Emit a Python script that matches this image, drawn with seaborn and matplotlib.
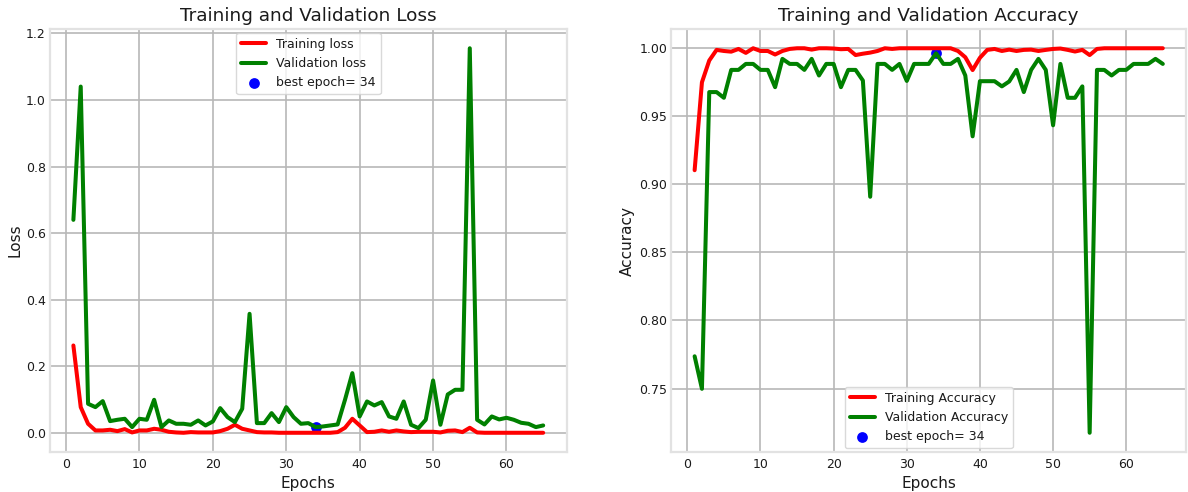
import matplotlib
matplotlib.use("Agg")
import matplotlib.pyplot as plt
import seaborn as sns

# Per-epoch training history
epochs = list(range(1, 66))

train_loss = [
    0.263, 0.078, 0.028, 0.008, 0.008, 0.010, 0.006, 0.012, 0.002, 0.008,
    0.008, 0.013, 0.010, 0.004, 0.002, 0.001, 0.003, 0.002, 0.002, 0.002,
    0.006, 0.013, 0.025, 0.013, 0.008, 0.003, 0.002, 0.002, 0.001, 0.001,
    0.001, 0.001, 0.001, 0.001, 0.001, 0.001, 0.003, 0.016, 0.043, 0.023,
    0.003, 0.004, 0.008, 0.004, 0.008, 0.005, 0.003, 0.004, 0.004, 0.004,
    0.002, 0.007, 0.008, 0.003, 0.016, 0.002, 0.001, 0.001, 0.001, 0.001,
    0.001, 0.001, 0.001, 0.001, 0.001,
]
val_loss = [
    0.640, 1.040, 0.088, 0.078, 0.096, 0.036, 0.040, 0.043, 0.018, 0.043,
    0.040, 0.100, 0.018, 0.038, 0.028, 0.028, 0.025, 0.038, 0.023, 0.035,
    0.075, 0.048, 0.033, 0.073, 0.358, 0.030, 0.030, 0.060, 0.033, 0.078,
    0.048, 0.028, 0.030, 0.018, 0.020, 0.023, 0.026, 0.100, 0.180, 0.050,
    0.095, 0.083, 0.093, 0.050, 0.043, 0.095, 0.025, 0.015, 0.040, 0.158,
    0.025, 0.116, 0.130, 0.130, 1.155, 0.040, 0.026, 0.050, 0.041, 0.046,
    0.040, 0.031, 0.028, 0.018, 0.023,
]
train_acc = [
    0.9104, 0.9750, 0.9910, 0.9988, 0.9980, 0.9975, 0.9995, 0.9966, 1.0000, 0.9980,
    0.9980, 0.9954, 0.9980, 0.9995, 1.0000, 1.0000, 0.9990, 1.0000, 1.0000, 0.9998,
    0.9993, 0.9995, 0.9950, 0.9960, 0.9968, 0.9980, 1.0000, 0.9995, 1.0000, 1.0000,
    1.0000, 1.0000, 1.0000, 1.0000, 1.0000, 1.0000, 0.9980, 0.9934, 0.9840, 0.9930,
    0.9988, 0.9995, 0.9980, 0.9990, 0.9980, 0.9988, 0.9990, 0.9980, 0.9988, 0.9995,
    0.9998, 0.9988, 0.9976, 0.9988, 0.9950, 0.9995, 1.0000, 1.0000, 1.0000, 1.0000,
    1.0000, 1.0000, 1.0000, 1.0000, 1.0000,
]
val_acc = [
    0.7737, 0.7498, 0.9678, 0.9678, 0.9636, 0.9841, 0.9841, 0.9885, 0.9885, 0.9841,
    0.9841, 0.9714, 0.9922, 0.9885, 0.9885, 0.9841, 0.9922, 0.9800, 0.9885, 0.9885,
    0.9714, 0.9841, 0.9841, 0.9763, 0.8909, 0.9885, 0.9885, 0.9841, 0.9885, 0.9760,
    0.9885, 0.9885, 0.9885, 0.9963, 0.9885, 0.9885, 0.9922, 0.9800, 0.9353, 0.9758,
    0.9758, 0.9758, 0.9720, 0.9756, 0.9841, 0.9678, 0.9841, 0.9922, 0.9841, 0.9434,
    0.9885, 0.9636, 0.9636, 0.9720, 0.7175, 0.9841, 0.9841, 0.9800, 0.9841, 0.9841,
    0.9885, 0.9885, 0.9885, 0.9922, 0.9885,
]
best_epoch = 34

sns.set_theme(style="whitegrid", color_codes=False, rc={
    "axes.edgecolor": "#e2e2e2",
    "axes.linewidth": 1.6,
    "grid.color": "#b8b8b8",
    "grid.linewidth": 1.2,
    "xtick.major.size": 0,
    "ytick.major.size": 0,
    "xtick.major.pad": 4,
    "ytick.major.pad": 3,
    "text.color": "#1a1a1a",
    "axes.labelcolor": "#1a1a1a",
    "xtick.color": "#1a1a1a",
    "ytick.color": "#1a1a1a",
})
plt.rcParams["font.family"] = ["DejaVu Sans"]

fig = plt.figure(figsize=(11.88, 4.92), dpi=100)
ax_loss = fig.add_axes([0.042, 0.0813, 0.435, 0.8597])
ax_acc = fig.add_axes([0.565, 0.0813, 0.4335, 0.8597])

lw = 2.9
dot_size = 60
tick_fs = 9
label_fs = 11
title_fs = 13.3
legend_fs = 9

# Loss panel
sns.lineplot(x=epochs, y=train_loss, color="red", linewidth=lw,
             label="Training loss", ax=ax_loss)
sns.lineplot(x=epochs, y=val_loss, color="green", linewidth=lw,
             label="Validation loss", ax=ax_loss)
sns.scatterplot(x=[best_epoch], y=[val_loss[best_epoch - 1]], s=dot_size,
                color="blue", linewidth=0, label=f"best epoch= {best_epoch}",
                ax=ax_loss, zorder=1)
ax_loss.set_title("Training and Validation Loss", fontsize=title_fs)
ax_loss.set_xlabel("Epochs", fontsize=label_fs)
ax_loss.set_ylabel("Loss", fontsize=label_fs, labelpad=2)
ax_loss.legend(loc="upper center", fontsize=legend_fs, frameon=True,
               edgecolor="#d0d0d0", facecolor="white", framealpha=0.8,
               borderaxespad=0.3)

# Accuracy panel
sns.lineplot(x=epochs, y=train_acc, color="red", linewidth=lw,
             label="Training Accuracy", ax=ax_acc)
sns.lineplot(x=epochs, y=val_acc, color="green", linewidth=lw,
             label="Validation Accuracy", ax=ax_acc)
sns.scatterplot(x=[best_epoch], y=[val_acc[best_epoch - 1]], s=dot_size,
                color="blue", linewidth=0, label=f"best epoch= {best_epoch}",
                ax=ax_acc, zorder=1)
ax_acc.set_title("Training and Validation Accuracy", fontsize=title_fs)
ax_acc.set_xlabel("Epochs", fontsize=label_fs)
ax_acc.set_ylabel("Accuracy", fontsize=label_fs, labelpad=3)
ax_acc.legend(loc="lower center", fontsize=legend_fs, frameon=True,
              edgecolor="#d0d0d0", facecolor="white", framealpha=0.8,
              borderaxespad=0.3)

for ax in (ax_loss, ax_acc):
    ax.margins(x=0.05, y=0.05)
    ax.tick_params(labelsize=tick_fs)
    ax.grid(True)
    ax.set_axisbelow(True)

ax_loss.set_yticks([0.0, 0.2, 0.4, 0.6, 0.8, 1.0, 1.2])
ax_acc.set_yticks([0.75, 0.80, 0.85, 0.90, 0.95, 1.00])
ax_acc.set_yticklabels(["0.75", "0.80", "0.85", "0.90", "0.95", "1.00"])

fig.savefig("out.png", dpi=100)
